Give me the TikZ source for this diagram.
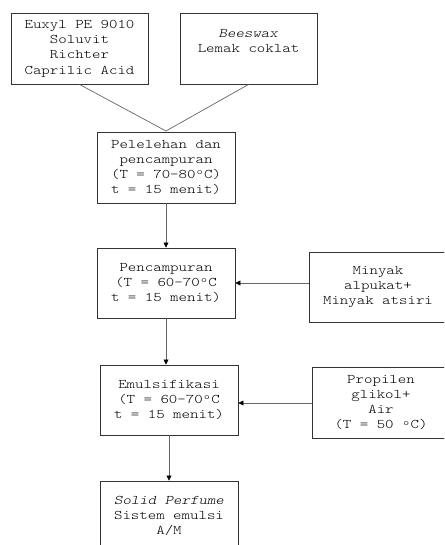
\documentclass[tikz,border=0pt]{standalone}
\usepackage{fontspec}
\newfontfamily\cour{Latin Modern Mono Light}[FakeStretch=1.22]
\newcommand\degsym{{\setbox0\hbox{0}\hbox to\wd0{\hss\raisebox{0.28em}{\fontsize{9}{9}\selectfont o}\hss}}}
\usetikzlibrary{arrows.meta}
\begin{document}
\begin{tikzpicture}[x=1pt,y=-1pt,
  box/.style={draw=black!80,line width=0.9pt,minimum width=137pt,minimum height=71pt,
    inner sep=0pt,align=center,font=\cour\fontsize{13.2}{15.3}\selectfont},
  link/.style={draw=black!60,line width=0.7pt},
  arr/.style={link,-{Triangle[length=5pt,width=5pt,fill=black,color=black]}}]
\useasboundingbox (0,0) rectangle (444,545);
\clip (0,0) rectangle (444,545);
\node[box] (A) at (79.5,48.5) {Euxyl PE 9010\\Soluvit\\Richter\\Caprilic Acid};
\node[box] (B) at (248.5,48.5) {\textit{Beeswax}\\Lemak coklat\\~};
\node[box,minimum width=138pt] (C) at (166,167.5) {Pelelehan dan\\pencampuran\\(T = 70-80\degsym C)\\t = 15 menit)};
\node[box,minimum width=138pt,minimum height=70pt] (D) at (166,283) {Pencampuran\\(T = 60-70\degsym C\\t = 15 menit)};
\node[box,minimum width=138pt,minimum height=70pt] (E) at (378,287) {Minyak\\alpukat+\\Minyak atsiri};
\node[box,minimum width=138pt,minimum height=70pt] (F) at (169,400) {Emulsifikasi\\(T = 60-70\degsym C\\t = 15 menit)};
\node[box,minimum width=138pt,minimum height=71pt] (G) at (381,402.5) {Propilen\\glikol+\\Air\\(T = 50 \degsym C)};
\node[box,minimum width=138pt,minimum height=70pt] (H) at (169,516) {\textit{Solid Perfume}\\Sistem emulsi\\A/M};
\coordinate (J) at (166,131);
\draw[link] (A.south) -- (J);
\draw[link] (B.south) -- (J);
\draw[arr] (C.south) -- (D.north);
\draw[arr] (E.west |- D.east) -- (D.east);
\draw[arr] (D.south) -- (D.south |- F.north);
\draw[arr] (G.west |- 0,403) -- (F.east |- 0,403);
\draw[arr] (F.south) -- (H.north);
\end{tikzpicture}
\end{document}
